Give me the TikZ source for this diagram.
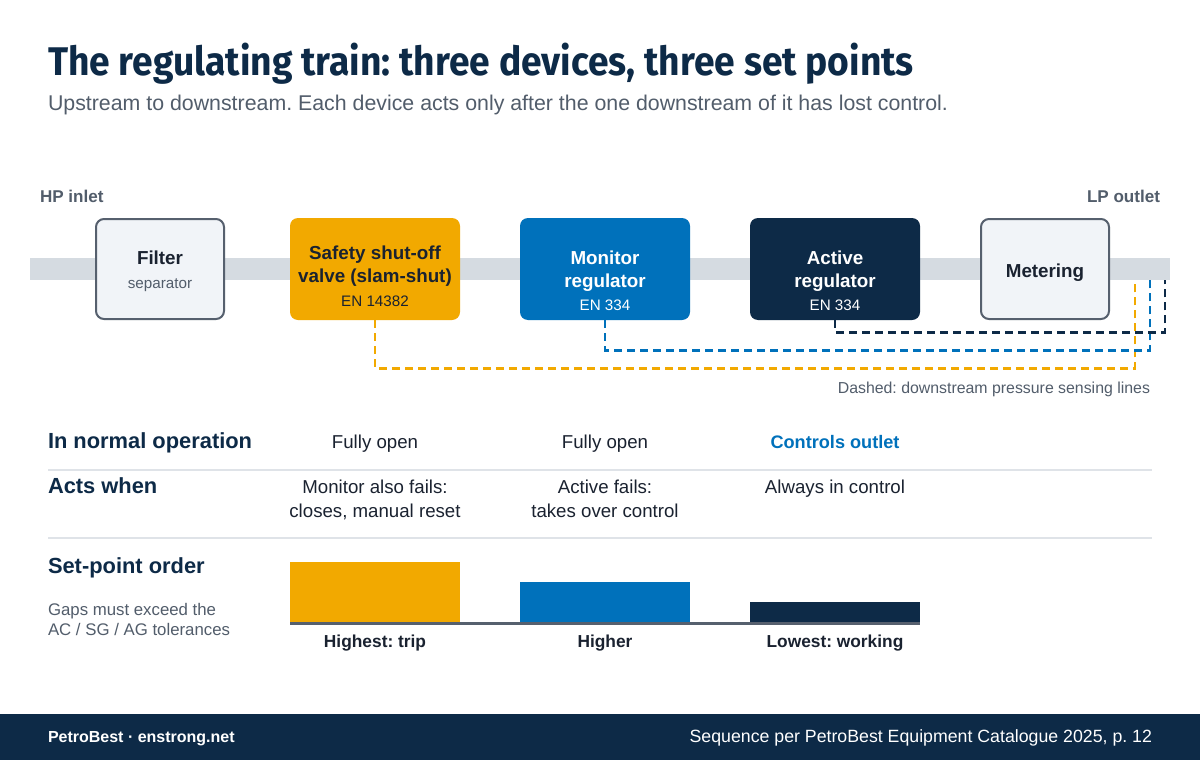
\documentclass[tikz,border=0pt]{standalone}
\usepackage{fontspec}
\setmainfont{Liberation Sans}
\newfontfamily\titlefont{Fira Sans}
\definecolor{navy}{HTML}{0D2A47}
\definecolor{amber}{HTML}{F2A900}
\definecolor{blu}{HTML}{0071BB}
\definecolor{txtgray}{HTML}{525D6B}
\definecolor{pipe}{HTML}{D5DBE1}
\definecolor{boxfill}{HTML}{F1F4F8}
\definecolor{boxline}{HTML}{56606E}
\definecolor{rulec}{HTML}{DFE3E8}
\definecolor{ink}{HTML}{1A2230}
\tikzset{
  lbl/.style={inner sep=0pt, outer sep=0pt, anchor=base},
  devbox/.style={rounded corners=6pt, minimum height=76.5pt, minimum width=127.5pt, inner sep=0pt},
  lightbox/.style={rounded corners=6pt, minimum height=75pt, minimum width=96pt, inner sep=0pt, fill=boxfill, draw=boxline, line width=1.5pt},
  sense/.style={line width=2pt, dash pattern=on 6pt off 3.75pt},
  boxtitle/.style={lbl, font=\bfseries\fontsize{14.1pt}{16pt}\selectfont},
  boxsub/.style={lbl, font=\fontsize{11.4pt}{13pt}\selectfont},
  rowhead/.style={lbl, anchor=base west, text=navy, font=\bfseries\fontsize{16.4pt}{18pt}\selectfont},
  cell/.style={lbl, text=ink, font=\fontsize{14pt}{16pt}\selectfont},
  barlbl/.style={lbl, text=ink, font=\bfseries\fontsize{13pt}{15pt}\selectfont},
}
\begin{document}
\frenchspacing
\begin{tikzpicture}[x=0.75pt,y=-0.75pt]
\useasboundingbox (0,0) rectangle (1200,760);
\fill[white] (0,0) rectangle (1200,760);
% title
\node[lbl, anchor=base west, text=navy] (title) at (48,75) {\titlefont\bfseries\fontsize{30pt}{32pt}\selectfont\scalebox{0.93}[1]{The regulating train: three devices, three set points}};
\node[lbl, anchor=base west, text=txtgray, font=\fontsize{16pt}{18pt}\selectfont] (subtitle) at (48,110) {Upstream to downstream. Each device acts only after the one downstream of it has lost control.};
% inlet / outlet
\node[lbl, anchor=base west, text=txtgray, font=\bfseries\fontsize{12.8pt}{14pt}\selectfont] (hp) at (40,202) {HP inlet};
\node[lbl, anchor=base east, text=txtgray, font=\bfseries\fontsize{12.8pt}{14pt}\selectfont] (lp) at (1160,202) {LP outlet};
% pipe
\fill[pipe] (30,258) rectangle (1170,280);
% boxes
\node[lightbox] (filter) at (160,269) {};
\node[devbox, fill=amber] (ssv) at (375,269) {};
\node[devbox, fill=blu] (mon) at (605,269) {};
\node[devbox, fill=navy] (act) at (835,269) {};
\node[lightbox] (meter) at (1045,269) {};
% box texts
\node[boxtitle, text=ink] (filterT) at (160,264) {Filter};
\node[boxsub, text=txtgray] (filterS) at (160,288) {separator};
\node[boxtitle, text=ink] (ssvT1) at (375,259) {Safety shut-off};
\node[boxtitle, text=ink] (ssvT2) at (375,282) {valve (slam-shut)};
\node[boxsub, text=ink] (ssvS) at (375,306) {EN 14382};
\node[boxtitle, text=white] (monT1) at (605,264) {Monitor};
\node[boxtitle, text=white] (monT2) at (605,287) {regulator};
\node[boxsub, text=white] (monS) at (605,310) {EN 334};
\node[boxtitle, text=white] (actT1) at (835,264) {Active};
\node[boxtitle, text=white] (actT2) at (835,287) {regulator};
\node[boxsub, text=white] (actS) at (835,310) {EN 334};
\node[boxtitle, text=ink] (meterT) at (1045,277) {Metering};
% sensing lines
\coordinate (tapO) at (1135,280);
\coordinate (tapB) at (1150,280);
\coordinate (tapN) at (1165,280);
\draw[sense, amber] (ssv.south) -- ++(0,48) -| (tapO);
\draw[sense, blu] (mon.south) -- ++(0,30) -| (tapB);
\draw[sense, navy] (act.south) -- ++(0,12) -| (tapN);
\node[lbl, anchor=base east, text=txtgray, font=\fontsize{11.9pt}{13pt}\selectfont] (senseL) at (1150,393) {Dashed: downstream pressure sensing lines};
% table
\node[rowhead] (r1) at (48,448) {In normal operation};
\node[cell] (c11) at (375,448) {Fully open};
\node[cell] (c12) at (605,448) {Fully open};
\node[cell, text=blu, font=\bfseries\fontsize{13.6pt}{15pt}\selectfont] (c13) at (835,448) {Controls outlet};
\draw[rulec, line width=1pt] (48,470) coordinate (s1a) -- (1152,470) coordinate (s1b);
\node[rowhead] (r2) at (48,493) {Acts when};
\node[cell] (c21) at (375,493) {Monitor also fails:};
\node[cell] (c21b) at (375,517) {closes, manual reset};
\node[cell] (c22) at (605,493) {Active fails:};
\node[cell] (c22b) at (605,517) {takes over control};
\node[cell] (c23) at (835,493) {Always in control};
\draw[rulec, line width=1pt] (48,538) coordinate (s2a) -- (1152,538) coordinate (s2b);
\node[rowhead] (r3) at (48,573) {Set-point order};
\node[lbl, anchor=base west, text=txtgray, font=\fontsize{12.6pt}{14pt}\selectfont] (gap1) at (48,615) {Gaps must exceed the};
\node[lbl, anchor=base west, text=txtgray, font=\fontsize{12.6pt}{14pt}\selectfont] (gap2) at (48,635) {AC / SG / AG tolerances};
% bars
\fill[amber] (290,562) rectangle (460,622);
\fill[blu] (520,582) rectangle (690,622);
\fill[navy] (750,602) rectangle (920,622);
\fill[boxline] (290,622) rectangle (920,625);
\node[barlbl] (b1) at (375,647) {Highest: trip};
\node[barlbl] (b2) at (605,647) {Higher};
\node[barlbl] (b3) at (835,647) {Lowest: working};
% footer
\fill[navy] (0,714) rectangle (1200,760);
\node[lbl, anchor=base west, text=white, font=\bfseries\fontsize{12pt}{14pt}\selectfont] (f1) at (48,742) {PetroBest · enstrong.net};
\node[lbl, anchor=base east, text=white, font=\fontsize{13.3pt}{15pt}\selectfont] (f2) at (1152,742) {Sequence per PetroBest Equipment Catalogue 2025, p. 12};
\end{tikzpicture}
\end{document}
